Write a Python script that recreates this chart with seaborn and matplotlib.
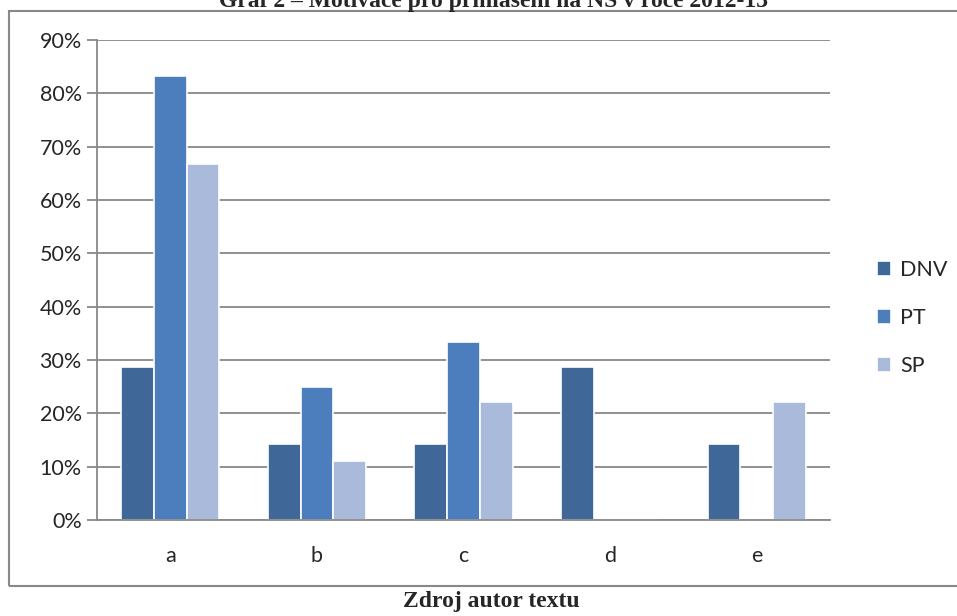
import pandas as pd
import seaborn as sns
import matplotlib.pyplot as plt
from matplotlib.patches import Rectangle
from matplotlib.ticker import PercentFormatter, FixedLocator

# answers a-e, share of respondents per group
categories = ['a', 'b', 'c', 'd', 'e']
dnv = [28.6, 14.3, 14.3, 28.6, 14.3]
pt = [83.3, 25.0, 33.3, 0.0, 0.0]
sp = [66.7, 11.1, 22.2, 0.0, 22.2]
groups = ['DNV', 'PT', 'SP']
colors = ['#3F6898', '#4C7EBD', '#AABADA']

df = pd.DataFrame({'odpoved': categories * 3,
                   'skupina': [g for g in groups for _ in categories],
                   'podil': dnv + pt + sp})

sns.set_style('white')
plt.rcParams['font.family'] = ['Lato', 'DejaVu Sans']

fig = plt.figure(figsize=(9.57, 6.16), dpi=100)
ax = fig.add_axes([97 / 957, 96 / 616, 733 / 957, 480 / 616])

sns.barplot(data=df, x='odpoved', y='podil', hue='skupina', palette=colors,
            saturation=1, width=0.67, edgecolor='white', linewidth=1.2, ax=ax)

ax.set_xlim(-0.5, 4.5)
ax.set_ylim(0, 90)
ax.yaxis.set_major_locator(FixedLocator(range(0, 91, 10)))
ax.yaxis.set_major_formatter(PercentFormatter(decimals=0))
ax.grid(axis='y', color='#888888', linewidth=1.3)
ax.set_axisbelow(True)
ax.set_xlabel('')
ax.set_ylabel('')

for s in ['top', 'right']:
    ax.spines[s].set_visible(False)
for s in ['left', 'bottom']:
    ax.spines[s].set_color('#888888')
    ax.spines[s].set_linewidth(1.3)

ax.xaxis.set_minor_locator(FixedLocator([i - 0.5 for i in range(6)]))
ax.tick_params(axis='x', which='major', length=0, pad=19, labelsize=15.5)
ax.tick_params(axis='x', which='minor', length=8, width=1.3, color='#888888', direction='out')
ax.tick_params(axis='y', length=7, width=1.3, color='#888888', labelsize=15.5, pad=4, left=True)

leg = ax.legend(loc='center left', bbox_to_anchor=(868 / 957, 298 / 616),
                bbox_transform=fig.transFigure, frameon=False, fontsize=15.5,
                handlelength=0.65, handleheight=0.65, handletextpad=0.45,
                labelspacing=1.3, borderaxespad=0)
for h in leg.legend_handles:
    h.set_edgecolor('white')

# frame around chart and captions (title sits partly above the page edge, as in the source)
fig.patches.append(Rectangle((9 / 957, 30 / 616), 960 / 957, 575 / 616,
                             transform=fig.transFigure, fill=False,
                             edgecolor='#888888', linewidth=1.5))
fig.text(494 / 957, 1 - 7 / 616, 'Graf 2 – Motivace pro přihlášení na NS v roce 2012-13',
         ha='center', va='baseline', family='Liberation Serif', weight='bold', fontsize=17)
fig.text(491 / 957, 1 - 607 / 616, 'Zdroj autor textu', ha='center', va='baseline',
         family='Liberation Serif', weight='bold', fontsize=17)

fig.savefig('out.png', dpi=100)
